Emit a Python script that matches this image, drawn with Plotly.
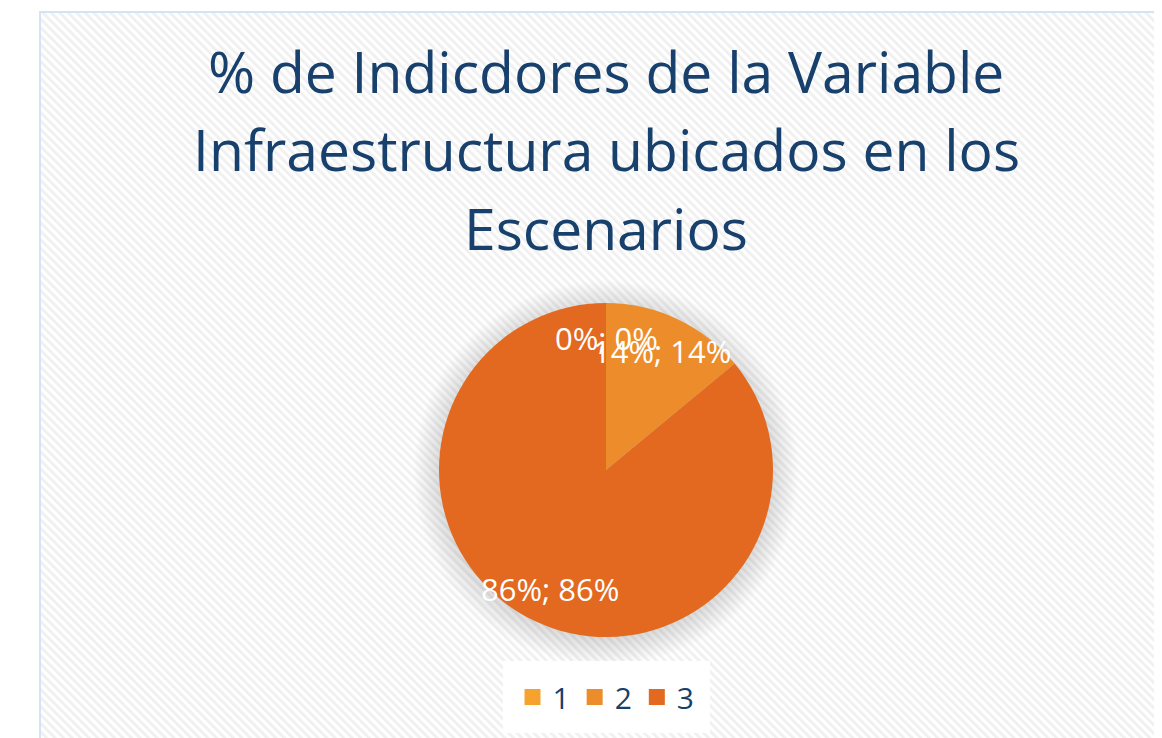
import base64
import math
import plotly.graph_objects as go

# ---- data ----
categories = ["1", "2", "3"]
values = [0, 14, 86]
slice_colors = ["#F5A32E", "#EC8C2A", "#E2691F"]
title_lines = ["% de Indicdores de la Variable",
               "Infraestructura ubicados en los",
               "Escenarios"]

W, H = 1162, 738
OFF = 8  # page body margin
title_color = "#17406D"
font_family = "Open Sans, Noto Sans, sans-serif"

# page-pixel positions -> figure pixels
bx0, by0 = 40 - OFF, 12 - OFF
bw, bh = W - bx0, H - by0
pcx, pcy, pr = 606 - OFF, 470 - OFF, 167

svg = f'''<svg xmlns="http://www.w3.org/2000/svg" width="{bw}" height="{bh}">
<defs>
<pattern id="p" width="6" height="6" patternUnits="userSpaceOnUse" patternTransform="rotate(-45)">
<rect width="6" height="6" fill="#ffffff"/>
<rect width="2.8" height="6" fill="#f0f0f0"/>
</pattern>
<radialGradient id="g" cx="{pcx-bx0}" cy="{pcy-by0+3}" r="{pr+26}" gradientUnits="userSpaceOnUse">
<stop offset="0.85" stop-color="#000" stop-opacity="0.14"/>
<stop offset="1" stop-color="#000" stop-opacity="0"/>
</radialGradient>
</defs>
<rect width="{bw}" height="{bh}" fill="url(#p)"/>
<circle cx="{pcx-bx0}" cy="{pcy-by0+3}" r="{pr+26}" fill="url(#g)"/>
</svg>'''
src = "data:image/svg+xml;base64," + base64.b64encode(svg.encode()).decode()

fig = go.Figure()
fig.add_trace(go.Pie(
    labels=categories, values=values, sort=False, direction="clockwise",
    rotation=0,
    marker=dict(colors=slice_colors, line=dict(width=0)),
    textinfo="none",
    showlegend=False, hoverinfo="label+percent",
    domain=dict(x=[(pcx - pr) / W, (pcx + pr) / W],
                y=[(H - pcy - pr) / H, (H - pcy + pr) / H]),
))
# legend entries
for c, col in zip(categories, slice_colors):
    fig.add_trace(go.Scatter(x=[None], y=[None], mode="markers", name=c,
                             marker=dict(symbol="square", size=20, color=col),
                             showlegend=True))

ann = []
for t, yc in zip(title_lines, [71, 149, 228]):
    ann.append(dict(text=t, x=pcx / W, y=1 - (yc - OFF) / H, xref="paper", yref="paper",
                    xanchor="center", yanchor="middle", showarrow=False,
                    font=dict(family=font_family, size=57, color=title_color)))

# data labels ("value; percent"), placed at each slice's mid-angle
total = sum(values)
cum = 0
for v in values:
    mid = 360 * (cum + v / 2) / total
    cum += v
    lx = pcx + 0.79 * pr * math.sin(math.radians(mid))
    ly = pcy - 0.79 * pr * math.cos(math.radians(mid))
    ann.append(dict(text=f"{v}%; {v/total:.0%}", x=lx / W, y=1 - ly / H,
                    xref="paper", yref="paper", xanchor="center", yanchor="middle",
                    showarrow=False,
                    font=dict(family=font_family, size=31, color="white")))

fig.update_layout(
    width=W, height=H, margin=dict(l=0, r=0, t=0, b=0),
    paper_bgcolor="white", plot_bgcolor="rgba(0,0,0,0)",
    xaxis=dict(visible=False), yaxis=dict(visible=False),
    annotations=ann,
    images=[dict(source=src, xref="paper", yref="paper", x=bx0 / W, y=1 - by0 / H,
                 sizex=bw / W, sizey=bh / H, xanchor="left", yanchor="top",
                 sizing="stretch", layer="below")],
    shapes=[dict(type="rect", xref="paper", yref="paper", x0=bx0 / W, y0=-0.01,
                 x1=1.01, y1=1 - by0 / H, line=dict(color="#D6E3F5", width=2),
                 fillcolor="rgba(0,0,0,0)", layer="above")],
    legend=dict(orientation="h", x=pcx / W, xanchor="center", y=1 - (697 - OFF) / H,
                yanchor="middle", bgcolor="white", bordercolor="white", borderwidth=10,
                font=dict(family=font_family, size=30, color=title_color),
                itemsizing="trace", itemwidth=30),
)
fig.write_html("out.html")
